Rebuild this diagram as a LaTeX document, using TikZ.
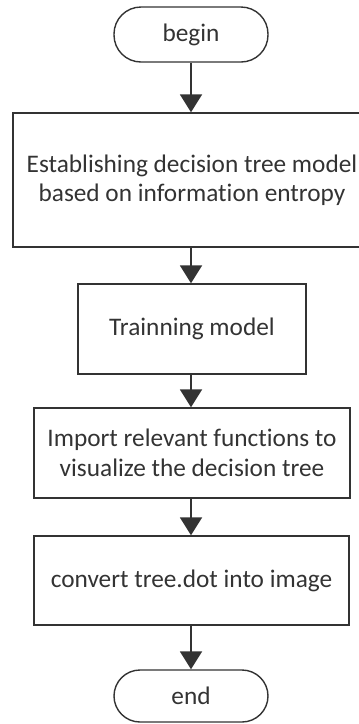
\documentclass[tikz,border=0pt]{standalone}
\usepackage{fontspec}
\setmainfont{Carlito}[Ligatures=NoCommon]
\usetikzlibrary{arrows.meta}
\definecolor{ink}{HTML}{333333}
\tikzset{
  base/.style={draw=ink, line width=1.4pt, text=ink, align=center,
    font=\fontsize{25.3}{29.5}\selectfont, inner sep=0pt},
  terminal/.style={base, rounded corners=27pt, minimum width=154pt},
  procbox/.style={base},
  flow/.style={draw=ink, line width=2pt,
    -{Triangle[width=22pt,length=18pt]}},
}
\begin{document}
\begin{tikzpicture}[x=1pt,y=-1pt]
  \useasboundingbox (0,0) rectangle (359,724);
  \node[terminal, minimum height=55pt] (begin) at (191,34.5) {begin};
  % the first box runs past the right border of the page
  \node[procbox, minimum width=358pt, minimum height=134pt] (model) at (192,180)
    {Establishing decision tree model\\based on information entropy};
  \node[procbox, minimum width=228pt, minimum height=90pt] (train) at (192,329)
    {Trainning model};
  \node[procbox, minimum width=316pt, minimum height=90pt] (import) at (192,453)
    {Import relevant functions to\\visualize the decision tree};
  \node[procbox, minimum width=315pt, minimum height=89pt] (convert) at (191.5,580.5)
    {convert tree.dot into image};
  \node[terminal, minimum height=52pt, rounded corners=26pt] (end) at (191,696) {end};

  \draw[flow] (begin.south) -- (begin.south |- model.north);
  \draw[flow] (begin.south |- model.south) -- (begin.south |- train.north);
  \draw[flow] (begin.south |- train.south) -- (begin.south |- import.north);
  \draw[flow] (begin.south |- import.south) -- (begin.south |- convert.north);
  \draw[flow] (begin.south |- convert.south) -- (end.north);
\end{tikzpicture}
\end{document}
